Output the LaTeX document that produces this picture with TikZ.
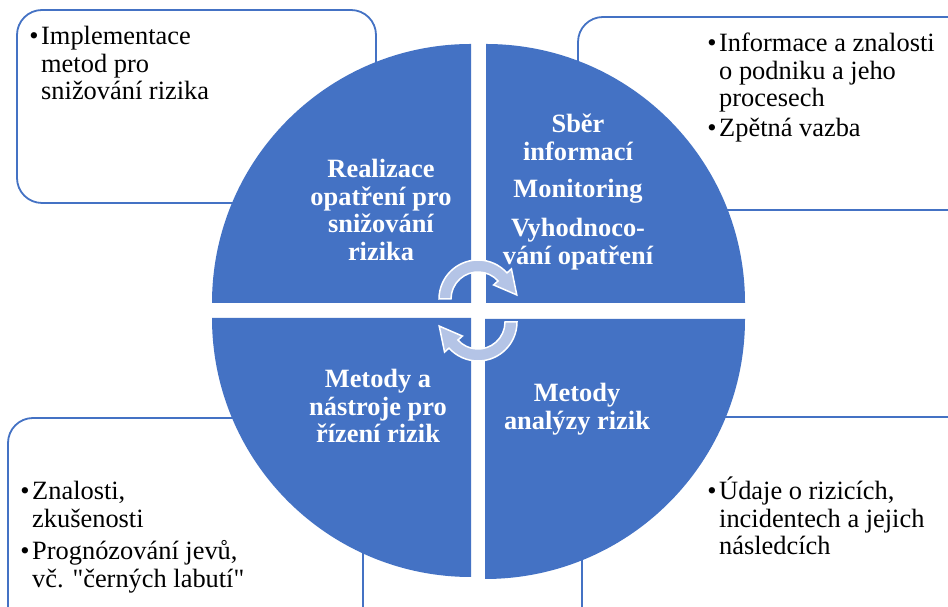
\documentclass[tikz,border=0pt]{standalone}
\usepackage{fontspec}
% plain family without TeX ligatures, so straight quotes stay straight
\newfontfamily\serifplain{Liberation Serif}
\definecolor{accent}{RGB}{68,114,196}
\definecolor{arrowfill}{RGB}{180,196,230}

% stacked lines with a fixed baseline distance; the node's base is the first line
\newcommand\centerlines[1]{\vtop{\baselineskip=27.5pt\lineskiplimit=-100pt\halign{\hfil##\hfil\cr#1\crcr}}}
\newcommand\leftlines[1]{\vtop{\baselineskip=27.5pt\lineskiplimit=-100pt\halign{##\hfil\cr#1\crcr}}}

% curved cycle arrow around a centre, turned by an angle
\newcommand\cyclearrow[2]{%
  \begin{scope}[shift={#1}, rotate=#2]
    \path[cycarrow] (180:39pt) arc[start angle=180, end angle=42, radius=39pt]
      -- (42:45pt) -- (6:39pt) -- (42:21pt) -- (42:27pt)
      arc[start angle=42, end angle=180, radius=27pt] -- cycle;
  \end{scope}}

\begin{document}
\begin{tikzpicture}[x=1pt, y=1pt,
  infobox/.style={draw=accent, line width=1.8pt, fill=white, rounded corners=25pt},
  quadrant/.style={fill=accent},
  cycarrow/.style={fill=arrowfill, draw=white, line width=1.5pt, line join=miter},
  boxtext/.style={anchor=base west, inner sep=0pt, text=black, font=\serifplain\fontsize{26.4}{27.5}\selectfont},
  bulletmark/.style={anchor=base, inner sep=0pt, text=black, font=\serifplain\fontsize{26.4}{27.5}\selectfont},
  qtext/.style={anchor=base, inner sep=0pt, text=white, font=\serifplain\bfseries\fontsize{26.4}{27.5}\selectfont}]

\clip (0,0) rectangle (948,607);
\fill[white] (0,0) rectangle (948,607);

% outer information boxes
\draw[infobox] (17,404) rectangle (376,597);
\draw[infobox] (578,397) rectangle (990,590);
\draw[infobox] (8,-40) rectangle (363,189);
\draw[infobox] (582,-40) rectangle (990,190);

% four quadrants of the circle
\fill[quadrant] (471,304) -- ++(-259,0) arc[start angle=180, end angle=90, radius=259pt] -- cycle;
\fill[quadrant] (486,304) -- ++(0,259) arc[start angle=90, end angle=0, radius=259pt] -- cycle;
\fill[quadrant] (485,288) -- ++(260,0) arc[start angle=0, end angle=-90, radius=260pt] -- cycle;
\fill[quadrant] (471,289) -- ++(0,-259) arc[start angle=270, end angle=180, radius=259pt] -- cycle;

% cycle arrows in the middle
\cyclearrow{(478,308)}{0}
\cyclearrow{(478,285)}{180}

% quadrant labels
\node[qtext] (realizace) at (381,429) {\centerlines{Realizace\cr opatření pro\cr snižování\cr rizika}};
\node[qtext] (sber) at (578,474) {\centerlines{Sběr\cr informací}};
\node[qtext] (monitoring) at (578,409) {Monitoring};
\node[qtext] (vyhodnoceni) at (578,370) {\centerlines{Vyhodnoco-\cr vání opatření}};
\node[qtext] (metodyrizeni) at (378,219) {\centerlines{Metody a\cr nástroje pro\cr řízení rizik}};
\node[qtext] (metodyanalyzy) at (577,205) {\centerlines{Metody\cr analýzy rizik}};

% box contents
\node[bulletmark] (b1) at (34,562) {•};
\node[boxtext] (t1) at (41,562) {\leftlines{Implementace\cr metod pro\cr snižování rizika}};

\node[bulletmark] (b2) at (712,555) {•};
\node[boxtext] (t2) at (719,555) {\leftlines{Informace a znalosti\cr o podniku a jeho\cr procesech}};
\node[bulletmark] (b3) at (712,470) {•};
\node[boxtext] (t3) at (719,470) {Zpětná vazba};

\node[bulletmark] (b4) at (25,107) {•};
\node[boxtext] (t4) at (32,107) {\leftlines{Znalosti,\cr zkušenosti}};
\node[bulletmark] (b5) at (25,47) {•};
\node[boxtext] (t5) at (32,47) {\leftlines{Prognózování jevů,\cr vč. "černých labutí"}};

\node[bulletmark] (b6) at (712,107) {•};
\node[boxtext] (t6) at (719,107) {\leftlines{Údaje o rizicích,\cr incidentech a jejich\cr následcích}};
\end{tikzpicture}
\end{document}
